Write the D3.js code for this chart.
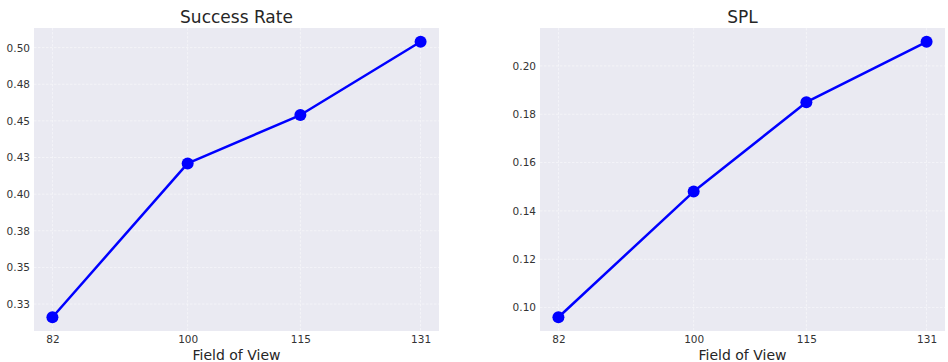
<!DOCTYPE html>
<html>
<head>
<meta charset="utf-8">
<script src="https://cdn.jsdelivr.net/npm/d3@7"></script>
<style>
  html, body { margin: 0; padding: 0; background: #ffffff; }
  svg { display: block; font-family: "DejaVu Sans", sans-serif; }
</style>
</head>
<body>
<svg id="chart" width="948" height="362"></svg>
<script>
// ---- data ----
const fieldOfView = [82, 100, 115, 131];
const successRate = [0.316, 0.421, 0.454, 0.504];
const splValues = [0.096, 0.148, 0.185, 0.210];
const srTicks = [0.325, 0.35, 0.375, 0.40, 0.425, 0.45, 0.475, 0.50];
const srTickLabels = ["0.33", "0.35", "0.38", "0.40", "0.43", "0.45", "0.48", "0.50"];
const splTicks = [0.10, 0.12, 0.14, 0.16, 0.18, 0.20];
const splTickLabels = ["0.10", "0.12", "0.14", "0.16", "0.18", "0.20"];
const titles = ["Success Rate", "SPL"];
const xLabel = "Field of View";

(function () {
const svg = d3.select("#chart");

const panels = [
  { title: titles[0], values: successRate, ticks: srTicks, labels: srTickLabels, x0: 34, x1: 439 },
  { title: titles[1], values: splValues, ticks: splTicks, labels: splTickLabels, x0: 540, x1: 945 }
];
const plotTop = 28, plotBottom = 331;

function padded(ext) {
  const d = (ext[1] - ext[0]) * 0.05;
  return [ext[0] - d, ext[1] + d];
}

panels.forEach(p => {
  const x = d3.scaleLinear().domain(padded(d3.extent(fieldOfView))).range([p.x0, p.x1]);
  const y = d3.scaleLinear().domain(padded(d3.extent(p.values))).range([plotBottom, plotTop]);
  const g = svg.append("g");

  g.append("rect")
    .attr("x", p.x0).attr("y", plotTop)
    .attr("width", p.x1 - p.x0).attr("height", plotBottom - plotTop)
    .attr("fill", "#EAEAF2");

  // grid
  g.selectAll(".hg").data(p.ticks).enter().append("line")
    .attr("x1", p.x0).attr("x2", p.x1)
    .attr("y1", d => y(d)).attr("y2", d => y(d))
    .attr("stroke", "#ffffff").attr("stroke-width", 0.8)
    .attr("stroke-dasharray", "2.5,1.5").attr("opacity", 0.6);
  g.selectAll(".vg").data(fieldOfView).enter().append("line")
    .attr("x1", d => x(d)).attr("x2", d => x(d))
    .attr("y1", plotTop).attr("y2", plotBottom)
    .attr("stroke", "#ffffff").attr("stroke-width", 0.8)
    .attr("stroke-dasharray", "2.5,1.5").attr("opacity", 0.6);

  // y axis
  const yAxis = d3.axisLeft(y).tickValues(p.ticks)
    .tickFormat((d, i) => p.labels[i]).tickSize(0).tickPadding(4);
  const ya = g.append("g").attr("transform", `translate(${p.x0},0)`).call(yAxis);
  ya.select(".domain").remove();
  ya.selectAll("text").attr("font-size", "10.5px").attr("fill", "#333333")
    .attr("font-family", "DejaVu Sans, sans-serif");

  // x axis
  const xAxis = d3.axisBottom(x).tickValues(fieldOfView)
    .tickFormat(d3.format("d")).tickSize(0).tickPadding(5);
  const xa = g.append("g").attr("transform", `translate(0,${plotBottom})`).call(xAxis);
  xa.select(".domain").remove();
  xa.selectAll("text").attr("font-size", "10.5px").attr("fill", "#333333")
    .attr("font-family", "DejaVu Sans, sans-serif");

  // titles
  g.append("text")
    .attr("x", (p.x0 + p.x1) / 2).attr("y", 23)
    .attr("text-anchor", "middle").attr("font-size", "17px").attr("fill", "#262626")
    .text(p.title);
  g.append("text")
    .attr("x", (p.x0 + p.x1) / 2).attr("y", 360)
    .attr("text-anchor", "middle").attr("font-size", "14px").attr("fill", "#262626")
    .text(xLabel);

  // line + markers
  const pts = fieldOfView.map((f, i) => [f, p.values[i]]);
  g.append("path")
    .datum(pts)
    .attr("fill", "none").attr("stroke", "#0000ff").attr("stroke-width", 2.5)
    .attr("stroke-linejoin", "round")
    .attr("d", d3.line().x(d => x(d[0])).y(d => y(d[1])));
  g.selectAll(".pt").data(pts).enter().append("circle")
    .attr("cx", d => x(d[0])).attr("cy", d => y(d[1]))
    .attr("r", 6).attr("fill", "#0000ff");
});
})();
</script>
</body>
</html>
